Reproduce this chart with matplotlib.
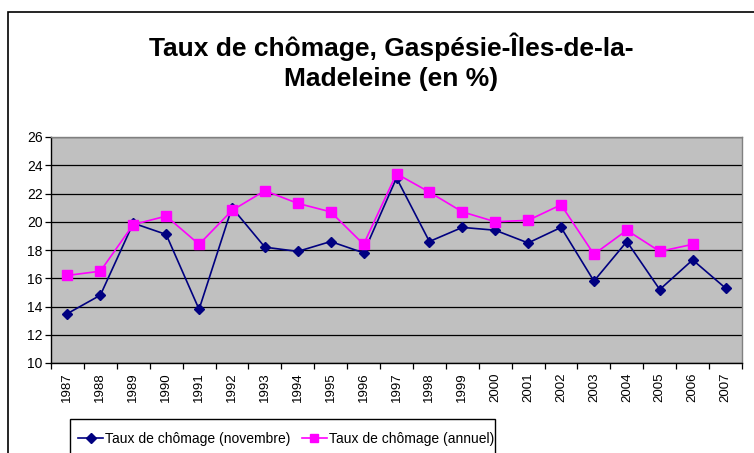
import matplotlib
matplotlib.use("Agg")
import matplotlib.pyplot as plt
from matplotlib.patches import Rectangle
from matplotlib.lines import Line2D

years = [str(y) for y in range(1987, 2008)]
novembre = [13.5, 14.8, 19.9, 19.1, 13.8, 21.0, 18.2, 17.9, 18.6, 17.8,
            23.1, 18.6, 19.6, 19.4, 18.5, 19.6, 15.8, 18.6, 15.2, 17.3, 15.3]
annuel = [16.2, 16.5, 19.8, 20.4, 18.4, 20.8, 22.2, 21.3, 20.7, 18.4,
          23.4, 22.1, 20.7, 20.0, 20.1, 21.2, 17.7, 19.4, 17.9, 18.4]
yticks = [10, 12, 14, 16, 18, 20, 22, 24, 26]

title = "Taux de chômage, Gaspésie-Îles-de-la-\nMadeleine (en %)"
label_nov = "Taux de chômage (novembre)"
label_ann = "Taux de chômage (annuel)"

W, H = 754, 453
plt.rcParams['font.family'] = ['Liberation Sans', 'DejaVu Sans']
fig = plt.figure(figsize=(W / 100, H / 100), dpi=100)
fig.patch.set_facecolor('white')

# outer chart border (extends beyond the image on the right and bottom)
fig.add_artist(Rectangle((8 / W, -0.1), 2, 1 - 12 / H + 0.1, transform=fig.transFigure,
                         fill=False, edgecolor='black', linewidth=1.2, clip_on=False))

fig.text(391 / W, 1 - 62 / H, title, ha='center', va='center', fontsize=19,
         fontweight='bold', linespacing=1.3)

ax = fig.add_axes([51 / W, 1 - 363 / H, (742 - 51) / W, (363 - 137) / H])
ax.set_facecolor('#C0C0C0')
x = list(range(len(years)))
ax.plot(x, novembre, color='#000080', marker='D', markersize=5.5, linewidth=1.2,
        label=label_nov, zorder=3)
ax.plot(x[:len(annuel)], annuel, color='#FF00FF', marker='s', markersize=6.5,
        linewidth=1.2, label=label_ann, zorder=4)

ax.set_xlim(-0.5, len(years) - 0.5)
ax.set_ylim(10, 26)
ax.set_yticks(yticks)
ax.set_yticklabels([str(v) for v in yticks], fontsize=10)
ax.yaxis.grid(True, color='black', linewidth=0.9)
ax.set_axisbelow(True)

ax.set_xticks([i - 0.5 for i in range(len(years) + 1)])
ax.set_xticklabels([])
ax.set_xticks(x, minor=True)
ax.set_xticklabels(years, minor=True, rotation=90, fontsize=9.5)
ax.tick_params(axis='x', which='minor', length=0, pad=7)
ax.tick_params(axis='x', which='major', length=4, direction='out', width=0.9)
ax.tick_params(axis='y', length=4, direction='out', width=0.9, pad=2)

for s in ['top', 'right']:
    ax.spines[s].set_color('#808080')
for s in ['left', 'bottom']:
    ax.spines[s].set_color('black')
for s in ax.spines.values():
    s.set_linewidth(1.0)

# legend box
fig.add_artist(Rectangle((70 / W, -0.1), (495 - 70) / W, 1 - 419 / H + 0.1,
                         transform=fig.transFigure, fill=True, facecolor='white',
                         edgecolor='black', linewidth=1.0, clip_on=False))
handles = [Line2D([], [], color='#000080', marker='D', markersize=5, linewidth=1.2),
           Line2D([], [], color='#FF00FF', marker='s', markersize=5.5, linewidth=1.2)]
leg = fig.legend(handles, [label_nov, label_ann], loc='center left',
                 bbox_to_anchor=(78 / W, 1 - 439 / H), ncol=2, frameon=False,
                 fontsize=10, handlelength=1.8, handletextpad=0.15,
                 columnspacing=0.8, borderaxespad=0, borderpad=0)

fig.savefig('out.png', dpi=100)
